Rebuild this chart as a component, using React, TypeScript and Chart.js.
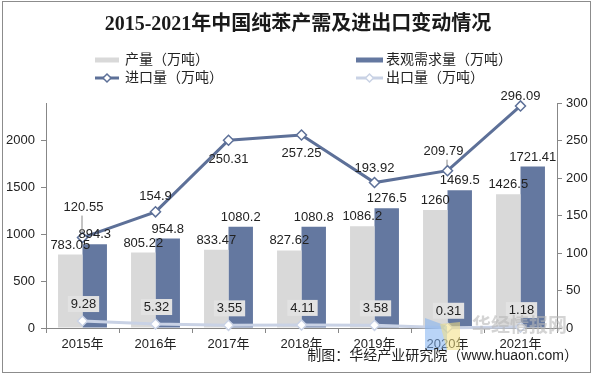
import React, { useEffect, useRef } from 'react';
import { Chart, registerables } from 'chart.js';

Chart.register(...registerables);

// ---- data ----
const years = ['2015年', '2016年', '2017年', '2018年', '2019年', '2020年', '2021年'];
const production = [783.05, 805.22, 833.47, 827.62, 1086.2, 1260, 1426.5];
const demand = [894.3, 954.8, 1080.2, 1080.8, 1276.5, 1469.5, 1721.41];
const imports = [120.55, 154.9, 250.31, 257.25, 193.92, 209.79, 296.09];
const exportsVol = [9.28, 5.32, 3.55, 4.11, 3.58, 0.31, 1.18];
const leftTicks = [0, 500, 1000, 1500, 2000];
const rightTicks = [0, 50, 100, 150, 200, 250, 300];

const titleText = '2015-2021年中国纯苯产需及进出口变动情况';
const sourceText = '制图：华经产业研究院（www.huaon.com）';

// ---- styles ----
const GRAY = '#d9d9d9';
const BLUE = '#6478a0';
const IMPORT_C = '#5d7098';
const EXPORT_C = '#c9d2e5';
const AXIS_C = '#878787';
const TEXT_C = '#222222';
const FONT = '"Liberation Sans", "Noto Sans CJK SC", sans-serif';
// label placement for import series (vertical offset of label centre, px)
const importLabelDy = [-30, -15, 19, 18, -14, -19, -10];
const importLabelDx = [1, 0, 0, 0, 0, -4, 0];
const importLeader = [true, false, false, false, false, true, false];

function diamond(ctx: CanvasRenderingContext2D, x: number, y: number, r: number, stroke: string) {
  ctx.beginPath();
  ctx.moveTo(x, y - r);
  ctx.lineTo(x + r, y);
  ctx.lineTo(x, y + r);
  ctx.lineTo(x - r, y);
  ctx.closePath();
  ctx.fillStyle = '#fff';
  ctx.fill();
  ctx.strokeStyle = stroke;
  ctx.lineWidth = 1.5;
  ctx.stroke();
}

const decorPlugin = {
  id: 'decor',
  beforeDraw(chart: any) {
    const ctx = chart.ctx as CanvasRenderingContext2D;
    ctx.save();
    ctx.fillStyle = '#fff';
    ctx.fillRect(0, 0, chart.width, chart.height);
    ctx.restore();
  },
  afterDatasetsDraw(chart: any) {
    const ctx = chart.ctx as CanvasRenderingContext2D;
    ctx.save();
    ctx.font = `13px ${FONT}`;
    ctx.fillStyle = TEXT_C;
    ctx.textAlign = 'center';

    // bar labels
    [0, 1].forEach((di) => {
      const meta = chart.getDatasetMeta(di);
      const ds = chart.data.datasets[di];
      meta.data.forEach((el: any, i: number) => {
        ctx.textBaseline = 'bottom';
        ctx.fillStyle = TEXT_C;
        ctx.fillText(String(ds.data[i]), el.x, el.y - 3);
      });
    });

    // import labels
    const mImp = chart.getDatasetMeta(2);
    mImp.data.forEach((el: any, i: number) => {
      const lx = el.x + importLabelDx[i];
      const ly = el.y + importLabelDy[i];
      if (importLeader[i]) {
        ctx.strokeStyle = '#888';
        ctx.lineWidth = 1;
        ctx.beginPath();
        ctx.moveTo(el.x - 0.5, ly + 8);
        ctx.lineTo(el.x - 0.5, el.y - 5);
        ctx.stroke();
      }
      ctx.textBaseline = 'middle';
      ctx.fillStyle = TEXT_C;
      ctx.fillText(String(imports[i]), lx, ly);
    });

    // export labels with box
    const mExp = chart.getDatasetMeta(3);
    mExp.data.forEach((el: any, i: number) => {
      const t = String(exportsVol[i]);
      const w = ctx.measureText(t).width + 6;
      const cx = el.x + 1;
      const cy = el.y - 17;
      ctx.fillStyle = '#e2e2e2';
      ctx.fillRect(cx - w / 2, cy - 8, w, 16);
      ctx.fillStyle = TEXT_C;
      ctx.textBaseline = 'middle';
      ctx.fillText(t, cx, cy + 0.5);
    });
    ctx.restore();
  },
  afterDraw(chart: any) {
    const ctx = chart.ctx as CanvasRenderingContext2D;
    ctx.save();
    // title
    ctx.fillStyle = '#1a1a1a';
    ctx.font = `bold 20px "Liberation Serif", "Noto Sans CJK SC", serif`;
    ctx.textAlign = 'center';
    ctx.textBaseline = 'middle';
    ctx.fillText(titleText, 298, 25);

    // legend
    const ds = chart.data.datasets;
    ctx.font = `14px ${FONT}`;
    ctx.textAlign = 'left';
    ctx.fillStyle = TEXT_C;
    // row 1
    ctx.fillStyle = GRAY;
    ctx.fillRect(95, 57.5, 24, 5);
    ctx.fillStyle = TEXT_C;
    ctx.fillText(ds[0].label, 125, 60);
    ctx.fillStyle = BLUE;
    ctx.fillRect(356, 57.5, 27, 5);
    ctx.fillStyle = TEXT_C;
    ctx.fillText(ds[1].label, 386, 60);
    // row 2
    ctx.strokeStyle = IMPORT_C;
    ctx.lineWidth = 3;
    ctx.beginPath();
    ctx.moveTo(95, 78);
    ctx.lineTo(119, 78);
    ctx.stroke();
    diamond(ctx, 107, 78, 4, IMPORT_C);
    ctx.fillStyle = TEXT_C;
    ctx.fillText(ds[2].label, 125, 78);
    ctx.strokeStyle = EXPORT_C;
    ctx.lineWidth = 3;
    ctx.beginPath();
    ctx.moveTo(356, 78);
    ctx.lineTo(383, 78);
    ctx.stroke();
    diamond(ctx, 369.5, 78, 4, EXPORT_C);
    ctx.fillStyle = TEXT_C;
    ctx.fillText(ds[3].label, 386, 78);

    // watermark logo + text
    ctx.globalAlpha = 0.55;
    ctx.fillStyle = '#7fb0f0';
    ctx.beginPath();
    ctx.moveTo(425, 318);
    ctx.lineTo(447, 326);
    ctx.lineTo(447, 350);
    ctx.lineTo(425, 350);
    ctx.closePath();
    ctx.fill();
    ctx.fillStyle = '#f3df80';
    ctx.beginPath();
    ctx.moveTo(440, 324);
    ctx.lineTo(460, 322);
    ctx.lineTo(460, 350);
    ctx.lineTo(447, 350);
    ctx.closePath();
    ctx.fill();
    ctx.globalAlpha = 0.6;
    ctx.fillStyle = '#b8b8b8';
    ctx.font = `bold 19px "Noto Sans CJK SC", sans-serif`;
    ctx.textBaseline = 'middle';
    ctx.fillText('华经情报网', 472, 325);
    ctx.globalAlpha = 1;

    // source
    ctx.fillStyle = TEXT_C;
    ctx.font = `14px ${FONT}`;
    ctx.textAlign = 'right';
    ctx.textBaseline = 'middle';
    ctx.fillText(sourceText, 578, 356);

    // outer border
    ctx.strokeStyle = '#8c8c8c';
    ctx.lineWidth = 1;
    ctx.strokeRect(2.5, 1.5, 588, 371);
    ctx.restore();
  },
};

export default function App() {
  const ref = useRef<HTMLCanvasElement>(null);
  useEffect(() => {
    document.body.style.margin = '0';
    const canvas = ref.current!;
    const chart = new Chart(canvas, {
      type: 'bar',
      data: {
        labels: years,
        datasets: [
          {
            type: 'bar',
            label: '产量（万吨）',
            data: production,
            backgroundColor: GRAY,
            yAxisID: 'y',
            order: 2,
            categoryPercentage: 0.67,
            barPercentage: 1.0,
          },
          {
            type: 'bar',
            label: '表观需求量（万吨）',
            data: demand,
            backgroundColor: BLUE,
            yAxisID: 'y',
            order: 2,
            categoryPercentage: 0.67,
            barPercentage: 1.0,
          },
          {
            type: 'line',
            label: '进口量（万吨）',
            data: imports,
            borderColor: IMPORT_C,
            borderWidth: 3,
            pointStyle: 'rectRot',
            pointRadius: 5,
            pointBackgroundColor: '#fff',
            pointBorderColor: IMPORT_C,
            pointBorderWidth: 1.5,
            yAxisID: 'y1',
            order: 1,
            clip: false,
          } as any,
          {
            type: 'line',
            label: '出口量（万吨）',
            data: exportsVol,
            borderColor: EXPORT_C,
            borderWidth: 3,
            pointStyle: 'rectRot',
            pointRadius: 5,
            pointBackgroundColor: '#fff',
            pointBorderColor: EXPORT_C,
            pointBorderWidth: 1.5,
            yAxisID: 'y1',
            order: 0,
            clip: false,
          } as any,
        ],
      },
      options: {
        responsive: false,
        animation: false,
        layout: { padding: { top: 103, left: 0, right: 0, bottom: 0 } },
        plugins: {
          legend: { display: false },
          title: { display: false },
          tooltip: { enabled: false },
        },
        scales: {
          x: {
            offset: true,
            grid: { offset: true, drawOnChartArea: false, drawTicks: true, tickLength: 5, color: AXIS_C },
            border: { display: true, color: AXIS_C },
            ticks: { color: TEXT_C, font: { size: 13, family: FONT }, padding: 4, maxRotation: 0 },
            afterFit: (s: any) => { s.height = 47; },
          },
          y: {
            position: 'left',
            min: 0,
            max: 2400,
            afterBuildTicks: (s: any) => { s.ticks = leftTicks.map((v) => ({ value: v })); },
            grid: { drawOnChartArea: false, drawTicks: true, tickLength: 5, color: AXIS_C },
            border: { display: true, color: AXIS_C },
            ticks: { color: TEXT_C, font: { size: 13, family: FONT }, padding: 6, callback: (v: any) => String(v) },
            afterFit: (s: any) => { s.width = 46; },
          },
          y1: {
            position: 'right',
            min: 0,
            max: 300,
            afterBuildTicks: (s: any) => { s.ticks = rightTicks.map((v) => ({ value: v })); },
            grid: { drawOnChartArea: false, drawTicks: true, tickLength: 5, color: AXIS_C },
            border: { display: true, color: AXIS_C },
            ticks: { color: TEXT_C, font: { size: 13, family: FONT }, padding: 4, callback: (v: any) => String(v) },
            afterFit: (s: any) => { s.width = 39; },
          },
        },
      } as any,
      plugins: [decorPlugin],
    });
    return () => chart.destroy();
  }, []);
  return (
    <div style={{ width: 596, height: 375, position: 'relative' }}>
      <canvas ref={ref} width={596} height={375} style={{ display: 'block' }} />
    </div>
  );
}
